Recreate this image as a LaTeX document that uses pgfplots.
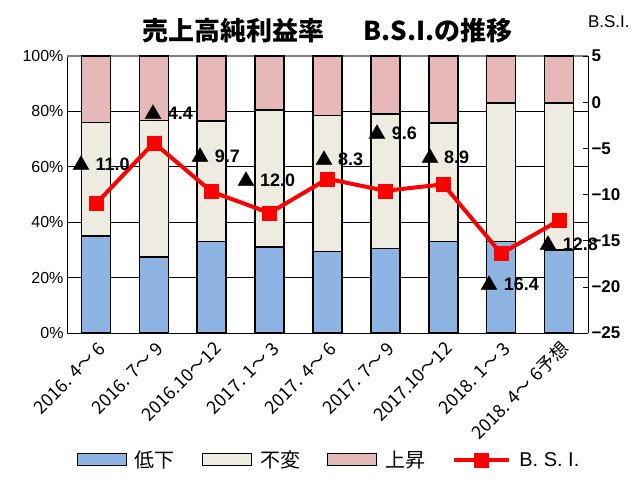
\documentclass[border=0pt]{standalone}
\usepackage{pgfplots}
\pgfplotsset{compat=1.18}
\usepackage{fontspec}
\setmainfont{Liberation Sans}
\newfontfamily\jp{Noto Sans CJK JP}
\definecolor{cblue}{RGB}{142,180,227}
\definecolor{cbeige}{RGB}{238,236,225}
\definecolor{cpink}{RGB}{230,185,184}
\pgfplotsset{
  bsilegend/.style={legend image code/.code={\draw[mark repeat=2,mark phase=2,##1] plot coordinates {(0bp,0bp) (27bp,0bp) (55bp,0bp)};}},
  boxlegend/.style={legend image code/.code={\draw[fill=#1, draw=black, line width=1.2bp] (0bp,-6bp) rectangle (49bp,6bp);}},
}
\begin{document}
\begin{tikzpicture}
\begin{axis}[
  scale only axis, width=521bp, height=277bp,
  ybar stacked, bar width=0.5,
  xmin=-0.5, xmax=8.5, ymin=0, ymax=100,
  xtick={0,...,8},
  xticklabels={2016. 4～ 6,2016. 7～ 9,2016.10～12,2017. 1～ 3,2017. 4～ 6,2017. 7～ 9,2017.10～12,2018. 1～ 3,2018. 4～ 6予想},
  xticklabel style={rotate=45, anchor=east, font=\jp\fontsize{18bp}{18bp}\selectfont, xshift=-1bp, yshift=-13bp},
  ytick={0,20,...,100},
  yticklabels={0\%,20\%,40\%,60\%,80\%,100\%},
  yticklabel style={font=\fontsize{16bp}{16bp}\selectfont},
  axis y line*=left,
  axis x line*=bottom,
  axis line style={black, line width=0.8bp, -},
  xtick style={draw=none}, ytick style={draw=none},
  ymajorgrids, grid style={black, line width=0.6bp},
  clip=false,
  title={\jp\bfseries 売上高純利益率\hspace{1.5em}B.S.I.の推移},
  title style={at={(0.5,1.069)}, anchor=center, font=\fontsize{26bp}{26bp}\selectfont},
]
\coordinate (LL) at (rel axis cs:0,0);
\addplot[fill=cblue, draw=black, line width=1.5bp] coordinates {(0,35) (1,27.5) (2,33) (3,31) (4,29.5) (5,30.5) (6,33) (7,33) (8,30)};
\addplot[fill=cbeige, draw=black, line width=1.5bp] coordinates {(0,41) (1,49.2) (2,43.5) (3,49.5) (4,49) (5,48.5) (6,42.8) (7,50) (8,53)};
\addplot[fill=cpink, draw=black, line width=1.5bp] coordinates {(0,24) (1,23.3) (2,23.5) (3,19.5) (4,21.5) (5,21) (6,24.2) (7,17) (8,17)};
\draw[gray, line width=1.5bp] (rel axis cs:0,1) -- (rel axis cs:1,1);
\end{axis}
\begin{axis}[
  scale only axis, width=521bp, height=277bp,
  xmin=-0.5, xmax=8.5, ymin=-25, ymax=5,
  axis x line=none,
  axis y line*=right,
  axis line style={black, line width=0.8bp, -},
  ytick={-25,-20,...,5},
  yticklabels={−25,−20,−15,−10,−5,0,5},
  yticklabel style={font=\bfseries\fontsize{17bp}{17bp}\selectfont},
  tick align=inside, major tick length=5bp, ytick style={black, line width=0.6bp},
  clip=false,
  legend style={draw=none, at={(0.503,-0.458)}, anchor=center, legend columns=4,
    font=\jp\fontsize{20bp}{20bp}\selectfont,
    /tikz/every odd column/.append style={column sep=6bp},
    /tikz/every even column/.append style={column sep=25bp}},
]
\addlegendimage{boxlegend=cblue}
\addlegendentry{低下}
\addlegendimage{boxlegend=cbeige}
\addlegendentry{不変}
\addlegendimage{boxlegend=cpink}
\addlegendentry{上昇}
\addplot[red, line width=4bp, mark=square*, mark size=7bp, mark options={solid, line width=0.5bp}, bsilegend]
  coordinates {(0,-11.0) (1,-4.4) (2,-9.7) (3,-12.0) (4,-8.3) (5,-9.6) (6,-8.9) (7,-16.4) (8,-12.8)};
\addlegendentry{\rmfamily B. S. I.}
\begin{scope}[every node/.style={font=\bfseries\fontsize{18bp}{18bp}\selectfont, inner sep=0pt}]
\node at (axis cs:0.09,-6.6) {{\jp ▲} 11.0};
\node at (axis cs:1.26,-1.06) {{\jp ▲} 4.4};
\node at (axis cs:2.07,-5.7) {{\jp ▲} 9.7};
\node at (axis cs:2.94,-8.3) {{\jp ▲} 12.0};
\node at (axis cs:4.2,-6.05) {{\jp ▲} 8.3};
\node at (axis cs:5.13,-3.3) {{\jp ▲} 9.6};
\node at (axis cs:6.03,-5.9) {{\jp ▲} 8.9};
\node at (axis cs:7.15,-19.6) {{\jp ▲} 16.4};
\node at (axis cs:8.17,-15.3) {{\jp ▲} 12.8};
\end{scope}
\node[font=\fontsize{17bp}{17bp}\selectfont] at (rel axis cs:1.04,1.123) {B.S.I.};
\end{axis}
\path (LL) ++(-67bp,-163bp) rectangle ++(641bp,496bp);
\end{tikzpicture}
\end{document}
